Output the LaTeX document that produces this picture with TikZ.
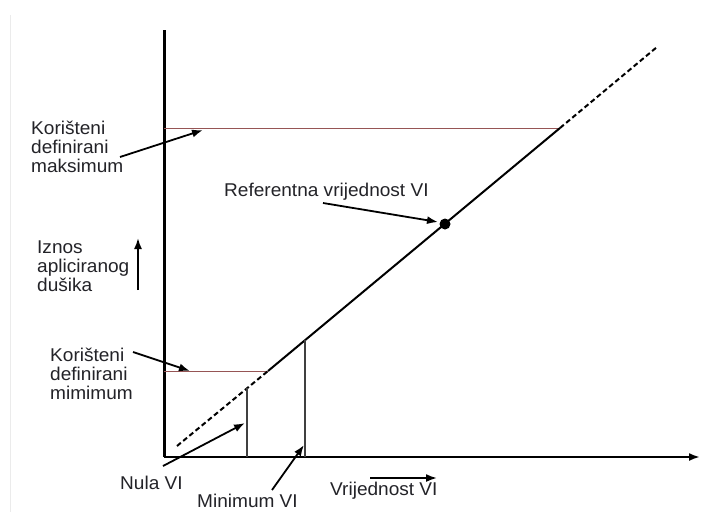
\documentclass[tikz,border=0pt]{standalone}
\usepackage{fontspec}
\setmainfont{Liberation Sans}[FakeStretch=1.03]
\usetikzlibrary{arrows.meta}
\definecolor{limitred}{RGB}{150,85,85}
\definecolor{txtgray}{RGB}{35,35,40}

\begin{document}
\begin{tikzpicture}[x=1pt,y=-1pt,
  lbl/.style={anchor=west,align=left,inner sep=0pt,text=txtgray,
    font=\fontsize{18.5}{18.8}\selectfont},
  pointer/.style={line width=1.8pt,-{Latex[length=11pt,width=8pt]}},
  limit/.style={line width=1pt,draw=limitred},
  marker/.style={line width=1.2pt,draw=black!75}]

\useasboundingbox[fill=white] (0,0) rectangle (701,512);
\draw[black!8, line width=1pt] (10,15) -- (10,512);

% Draw x and y axis lines
\coordinate (O) at (164,457);
\coordinate (ytop) at (164,30);
\coordinate (xend) at (700,457);
\draw[line width=3pt] (ytop) -- (O);
\draw[line width=2pt,-{Latex[length=11pt,width=8pt]}] (O) -- (xend);

% points on the straight line
\coordinate (lo) at (177,446);
\coordinate (minpt) at (268,371);
\coordinate (ref) at (445,224);
\coordinate (maxpt) at (560,128);
\coordinate (hi) at (657,47);

% defined minimum and maximum
\coordinate (maxleft) at (164,128);
\coordinate (minleft) at (164,371);
\draw[limit] (maxleft) -- (maxpt);
\draw[limit] (minleft) -- (minpt);

\draw[line width=2pt, dash pattern=on 5pt off 3pt] (lo) -- (minpt);
\draw[line width=2pt] (minpt) -- (maxpt);
\draw[line width=2pt, dash pattern=on 5pt off 3pt] (maxpt) -- (hi);
\fill (ref) circle (5.5);

% zero VI and minimum VI
\coordinate (nulabot) at (247,457);
\coordinate (nulatop) at (247,388);
\coordinate (minbot) at (305,457);
\coordinate (mintop) at (305,340);
\draw[marker] (nulabot) -- (nulatop);
\draw[marker] (minbot) -- (mintop);

% labels
\node[lbl] (maxtxt) at (31,147) {Korišteni\\definirani\\maksimum};
\node[lbl] (ytxt) at (37,266) {Iznos\\apliciranog\\dušika};
\node[lbl] (mintxt) at (50,374) {Korišteni\\definirani\\mimimum};
\node[lbl] (reftxt) at (224,192) {Referentna vrijednost VI};
\node[lbl] (nulatxt) at (120,483) {Nula VI};
\node[lbl] (minvitxt) at (197,501) {Minimum VI};
\node[lbl] (xtxt) at (330,491) {Vrijednost VI};

% pointers
\coordinate (maxtail) at (120,157);
\coordinate (maxtip) at (203,130);
\coordinate (ytail) at (138,290);
\coordinate (ytip) at (138,238);
\coordinate (mintail) at (133,352);
\coordinate (mintip) at (190,371);
\coordinate (reftail) at (323,203);
\coordinate (reftip) at (438,222);
\coordinate (nulatail) at (163,466);
\coordinate (nulatip) at (245,423);
\coordinate (minvitail) at (272,490);
\coordinate (minvitip) at (304,445);
\coordinate (xtail) at (370,478);
\coordinate (xtip) at (437,478);

\draw[pointer] (maxtail) -- (maxtip);
\draw[pointer] (ytail) -- (ytip);
\draw[pointer] (mintail) -- (mintip);
\draw[pointer] (reftail) -- (reftip);
\draw[pointer] (nulatail) -- (nulatip);
\draw[pointer] (minvitail) -- (minvitip);
\draw[pointer] (xtail) -- (xtip);

\end{tikzpicture}
\end{document}
